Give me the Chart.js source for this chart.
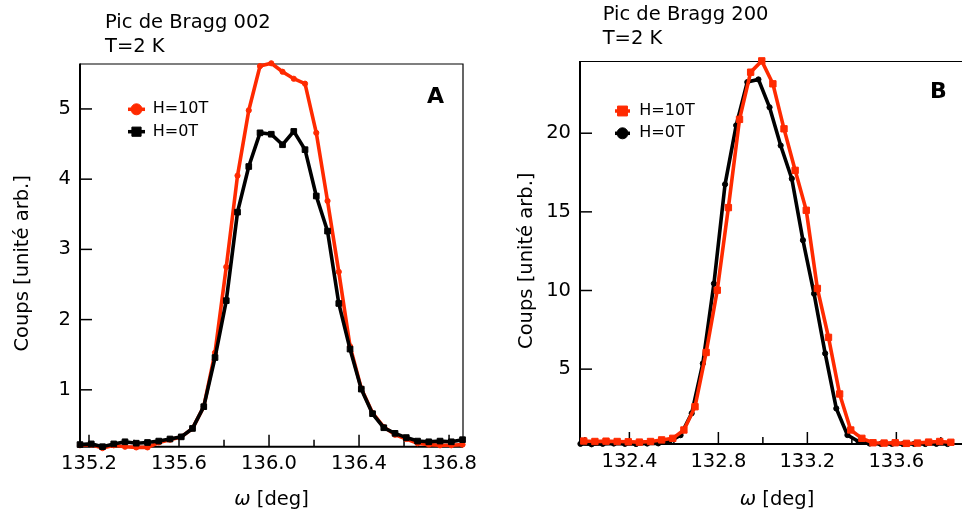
<!DOCTYPE html>
<html><head><meta charset="utf-8">
<script src="https://cdn.jsdelivr.net/npm/chart.js@4/dist/chart.umd.min.js"></script>
<style>
html,body{margin:0;padding:0;background:#fff;overflow:hidden;width:962px;height:525px}
canvas{position:absolute;top:0}
#cA{left:0}
#cB{left:500px}
</style></head><body>
<canvas id="cA" width="490" height="525"></canvas>
<canvas id="cB" width="480" height="525"></canvas>
<script>
// ---------- Data: panel A, Bragg peak 002 ----------
const omegaA = [135.16,135.21,135.26,135.31,135.36,135.41,135.46,135.51,135.56,135.61,135.66,135.71,135.76,135.81,135.86,135.91,135.96,136.01,136.06,136.11,136.16,136.21,136.26,136.31,136.36,136.41,136.46,136.51,136.56,136.61,136.66,136.71,136.76,136.81,136.86];
const countsA_10T = [0.21,0.22,0.17,0.21,0.19,0.18,0.18,0.25,0.29,0.33,0.45,0.76,1.53,2.75,4.05,4.98,5.61,5.65,5.53,5.43,5.36,4.66,3.69,2.68,1.62,1.02,0.67,0.47,0.36,0.30,0.24,0.22,0.21,0.21,0.22];
const countsA_0T = [0.22,0.23,0.19,0.23,0.26,0.24,0.25,0.27,0.30,0.33,0.45,0.76,1.46,2.27,3.53,4.18,4.66,4.64,4.49,4.68,4.42,3.76,3.26,2.23,1.58,1.01,0.66,0.46,0.38,0.32,0.27,0.26,0.27,0.26,0.29];

// ---------- Data: panel B, Bragg peak 200 ----------
const omegaB_10T = [132.195,132.245,132.295,132.345,132.395,132.445,132.495,132.545,132.595,132.645,132.695,132.745,132.795,132.845,132.895,132.945,132.995,133.045,133.095,133.145,133.195,133.245,133.295,133.345,133.395,133.445,133.495,133.545,133.595,133.645,133.695,133.745,133.795,133.845];
const countsB_10T = [0.43,0.40,0.42,0.40,0.38,0.36,0.40,0.50,0.60,1.13,2.61,6.06,10.02,15.27,20.88,23.88,24.60,23.14,20.28,17.64,15.10,10.13,7.02,3.42,1.13,0.60,0.32,0.30,0.32,0.28,0.30,0.36,0.40,0.35];
const omegaB_0T = [132.18,132.23,132.28,132.33,132.38,132.43,132.48,132.53,132.58,132.63,132.68,132.73,132.78,132.83,132.88,132.93,132.98,133.03,133.08,133.13,133.18,133.23,133.28,133.33,133.38,133.43,133.48,133.53,133.58,133.63,133.68,133.73,133.78,133.83];
const countsB_0T = [0.25,0.22,0.25,0.27,0.25,0.24,0.27,0.28,0.39,0.80,2.19,5.36,10.44,16.75,20.50,23.25,23.42,21.65,19.22,17.11,13.20,9.80,6.00,2.50,0.81,0.39,0.27,0.25,0.25,0.24,0.25,0.24,0.25,0.24];

// ---------- Text ----------
const titleA = ['Pic de Bragg 002', 'T=2 K'];
const titleB = ['Pic de Bragg 200', 'T=2 K'];
const yTitle = 'Coups [unité arb.]';
const xTitleSym = 'ω';
const xTitleRest = ' [deg]';

const RED = '#ff2a00';
const FAM = '"DejaVu Sans", "Lucida Grande", sans-serif';
const FS = 19.5;

function pts(xs, ys) { return xs.map((x, i) => ({x: x, y: ys[i]})); }
function isMajor(v) { return Math.round(v * 10) % 4 === 0; }

const decor = {
  id: 'decor',
  beforeDatasetsDraw(chart, args, o) {
    const ctx = chart.ctx, a = chart.chartArea, xs = chart.scales.x, ys = chart.scales.y;
    ctx.save();
    ctx.strokeStyle = '#000';
    ctx.lineWidth = 1.2;
    ctx.beginPath(); ctx.moveTo(a.left, a.top); ctx.lineTo(a.right, a.top); ctx.lineTo(a.right, a.bottom); ctx.stroke();
    ctx.lineWidth = 2;
    ctx.beginPath(); ctx.moveTo(a.left, a.top - 0.6); ctx.lineTo(a.left, a.bottom); ctx.lineTo(a.right, a.bottom); ctx.stroke();
    ctx.lineWidth = 1.5;
    xs.ticks.forEach(t => {
      const p = xs.getPixelForValue(t.value);
      ctx.beginPath(); ctx.moveTo(p, a.bottom); ctx.lineTo(p, a.bottom - (isMajor(t.value) ? 12 : 7)); ctx.stroke();
    });
    ys.ticks.forEach(t => {
      const p = ys.getPixelForValue(t.value);
      ctx.beginPath(); ctx.moveTo(a.left, p); ctx.lineTo(a.left + 12, p); ctx.stroke();
    });
    ctx.restore();
  },
  afterDraw(chart, args, o) {
    const ctx = chart.ctx, a = chart.chartArea;
    ctx.save();
    ctx.fillStyle = '#000';
    ctx.textBaseline = 'alphabetic';
    ctx.textAlign = 'left';
    ctx.font = FS + 'px ' + FAM;
    o.title.forEach((t, i) => ctx.fillText(t, o.titleX, o.titleY[i]));
    ctx.font = 'bold 22px ' + FAM;
    ctx.fillText(o.letter, o.letterX, o.letterY);
    ctx.font = 'italic ' + FS + 'px ' + FAM;
    const w1 = ctx.measureText(xTitleSym).width;
    ctx.font = FS + 'px ' + FAM;
    const w2 = ctx.measureText(xTitleRest).width;
    const cx = (a.left + a.right) / 2;
    const x0 = cx - (w1 + w2) / 2;
    ctx.textBaseline = 'middle';
    ctx.font = 'italic ' + FS + 'px ' + FAM;
    ctx.fillText(xTitleSym, x0, o.xTitleY);
    ctx.font = FS + 'px ' + FAM;
    ctx.fillText(xTitleRest, x0 + w1, o.xTitleY);
    ctx.save();
    ctx.translate(o.yTitleX, (a.top + a.bottom) / 2 + o.yTitleDy);
    ctx.rotate(-Math.PI / 2);
    ctx.textAlign = 'center';
    ctx.fillText(yTitle, 0, 0);
    ctx.restore();
    ctx.font = '16px ' + FAM;
    ctx.textAlign = 'left';
    ctx.textBaseline = 'middle';
    o.legend.forEach(it => {
      const ds = chart.data.datasets[it.ds];
      ctx.strokeStyle = ds.borderColor;
      ctx.lineWidth = 3.5;
      ctx.beginPath(); ctx.moveTo(o.legX1, it.y); ctx.lineTo(o.legX2, it.y); ctx.stroke();
      ctx.fillStyle = ds.backgroundColor;
      ctx.lineWidth = 1;
      Chart.helpers.drawPoint(ctx, {pointStyle: ds.pointStyle, rotation: 0, radius: it.r, borderWidth: 1}, (o.legX1 + o.legX2) / 2, it.y);
      ctx.fillStyle = '#000';
      ctx.fillText(ds.label, o.legTextX, it.y);
    });
    ctx.restore();
  }
};

function makeScales(xmin, xmax, ymin, ymax, ystep, xh) {
  return {
    x: {
      type: 'linear', min: xmin, max: xmax,
      grid: {display: false, drawTicks: false, tickLength: 0},
      border: {display: false},
      ticks: {stepSize: 0.2, autoSkip: false, includeBounds: false, maxRotation: 0, padding: 6, color: '#000',
        font: {family: FAM, size: FS},
        callback: v => isMajor(v) ? v.toFixed(1) : ''},
      afterFit(s) { s.height = xh; }
    },
    y: {
      type: 'linear', min: ymin, max: ymax,
      grid: {display: false, drawTicks: false, tickLength: 0},
      border: {display: false},
      ticks: {stepSize: ystep, includeBounds: false, padding: 9, color: '#000',
        font: {family: FAM, size: FS},
        callback: v => String(v)},
      afterFit(s) { s.width = 80; }
    }
  };
}

new Chart(document.getElementById('cA'), {
  type: 'line',
  data: {datasets: [
    {label: 'H=0T', data: pts(omegaA, countsA_0T), borderColor: '#000', backgroundColor: '#000',
     borderWidth: 3.6, pointStyle: 'rect', pointRadius: 4, pointBorderWidth: 1, clip: false, tension: 0},
    {label: 'H=10T', data: pts(omegaA, countsA_10T), borderColor: RED, backgroundColor: RED,
     borderWidth: 3.6, pointStyle: 'circle', pointRadius: 2.6, pointBorderWidth: 1, clip: false, tension: 0}
  ]},
  options: {
    responsive: false, animation: false, devicePixelRatio: 1,
    layout: {padding: {left: 0, right: 27, top: 64, bottom: 0}},
    plugins: {legend: {display: false}, tooltip: {enabled: false},
      decor: {title: titleA, titleX: 105, titleY: [28.3, 51.7], letter: 'A', letterX: 427, letterY: 103,
        xTitleY: 500, yTitleX: 23, yTitleDy: 8,
        legX1: 128, legX2: 145, legTextX: 152.7,
        legend: [{ds: 1, y: 109.3, r: 5.5}, {ds: 0, y: 131.7, r: 6.5}]}},
    scales: makeScales(135.16, 136.862, 0.19, 5.64, 1, 78.3)
  },
  plugins: [decor]
});

new Chart(document.getElementById('cB'), {
  type: 'line',
  data: {datasets: [
    {label: 'H=10T', data: pts(omegaB_10T, countsB_10T), borderColor: RED, backgroundColor: RED,
     borderWidth: 3.6, pointStyle: 'rect', pointRadius: 4.5, pointBorderWidth: 1, clip: false, tension: 0},
    {label: 'H=0T', data: pts(omegaB_0T, countsB_0T), borderColor: '#000', backgroundColor: '#000',
     borderWidth: 3.6, pointStyle: 'circle', pointRadius: 2.6, pointBorderWidth: 1, clip: false, tension: 0}
  ]},
  options: {
    responsive: false, animation: false, devicePixelRatio: 1,
    layout: {padding: {left: 0, right: 6, top: 61.5, bottom: 0}},
    plugins: {legend: {display: false}, tooltip: {enabled: false},
      decor: {title: titleB, titleX: 102.7, titleY: [20, 44.3], letter: 'B', letterX: 430, letterY: 98,
        xTitleY: 500, yTitleX: 27, yTitleDy: 8,
        legX1: 115, legX2: 130, legTextX: 139.3,
        legend: [{ds: 0, y: 111, r: 7}, {ds: 1, y: 133.3, r: 5.5}]}},
    scales: makeScales(132.178, 133.949, 0.24, 24.56, 5, 81)
  },
  plugins: [decor]
});
</script>
</body></html>
